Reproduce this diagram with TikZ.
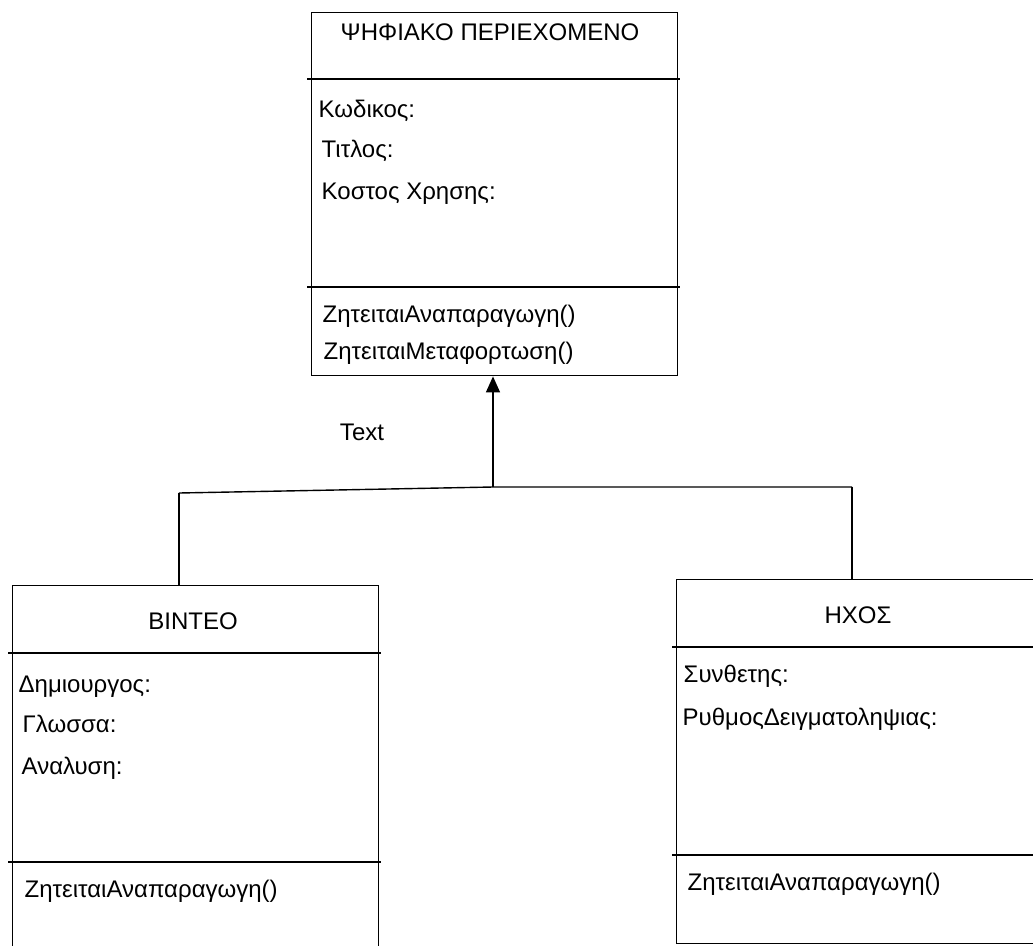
\documentclass[tikz,border=0pt]{standalone}
\usepackage{fontspec}
\setmainfont{Liberation Sans}
\usetikzlibrary{arrows.meta,positioning}

\begin{document}
\begin{tikzpicture}[x=1pt,y=-1pt,line width=1.4pt,
  classbox/.style={draw, rectangle, anchor=north west, inner sep=0pt},
  txt/.style={inner sep=0pt, text height=17pt, text depth=5pt, font=\fontsize{24}{28}\selectfont},
  attr/.style={txt, anchor=west}]
  \useasboundingbox (0,0) rectangle (1033,945);
  \clip (0,0) rectangle (1033,945);

  % Classes
  \node[classbox, minimum width=366pt, minimum height=363pt] (digital) at (311,12) {};
  \node[classbox, minimum width=366pt, minimum height=400pt] (video) at (12,585) {};
  \node[classbox, minimum width=400pt, minimum height=364pt] (sound) at (676,579) {};

  % Dividers
  \draw ([xshift=-4pt]digital.west |- 0,79) -- ([xshift=2pt]digital.east |- 0,79);
  \draw ([xshift=-4pt]digital.west |- 0,287) -- ([xshift=2pt]digital.east |- 0,287);
  \draw ([xshift=-4pt]video.west |- 0,653) -- ([xshift=2pt]video.east |- 0,653);
  \draw ([xshift=-4pt]video.west |- 0,862) -- ([xshift=2pt]video.east |- 0,862);
  \draw ([xshift=-4pt]sound.west |- 0,647) -- (sound.east |- 0,647);
  \draw ([xshift=-4pt]sound.west |- 0,855) -- (sound.east |- 0,855);

  % Names
  \node[txt] (digitalname) at (490,34) {ΨΗΦΙΑΚΟ ΠΕΡΙΕΧΟΜΕΝΟ};
  \node[txt] (videoname) at (193,623) {ΒΙΝΤΕΟ};
  \node[txt] (soundname) at (858,617) {ΗΧΟΣ};

  % Attributes and operations
  \node[attr] (code) at (318,111) {Κωδικος:};
  \node[attr] (title) at (321,151) {Τιτλος:};
  \node[attr] (cost) at (321,193) {Κοστος Χρησης:};
  \node[attr] (play) at (322,316) {ΖητειταιΑναπαραγωγη()};
  \node[attr] (download) at (323,353) {ΖητειταιΜεταφορτωση()};

  \node[attr] (creator) at (18,686) {Δημιουργος:};
  \node[attr] (language) at (22,726) {Γλωσσα:};
  \node[attr] (resolution) at (21,768) {Αναλυση:};
  \node[attr] (videoplay) at (24,891) {ΖητειταιΑναπαραγωγη()};

  \node[attr] (composer) at (683,676) {Συνθετης:};
  \node[attr] (rate) at (682,719) {ΡυθμοςΔειγματοληψιας:};
  \node[attr] (soundplay) at (687,884) {ΖητειταιΑναπαραγωγη()};

  % Generalisation
  \coordinate (junc) at (493,487);
  \coordinate (leftend) at (179,493);
  \coordinate (rightend) at (852,487);
  \draw (leftend) -- (junc) -- (rightend);
  \draw (leftend) -- (leftend |- video.north);
  \draw (rightend) -- (rightend |- sound.north);
  \draw[-{Triangle[length=16pt,width=14pt]}] (junc) -- (junc |- digital.south);
  \node[txt] (label) at (362,434) {Text};
\end{tikzpicture}
\end{document}
